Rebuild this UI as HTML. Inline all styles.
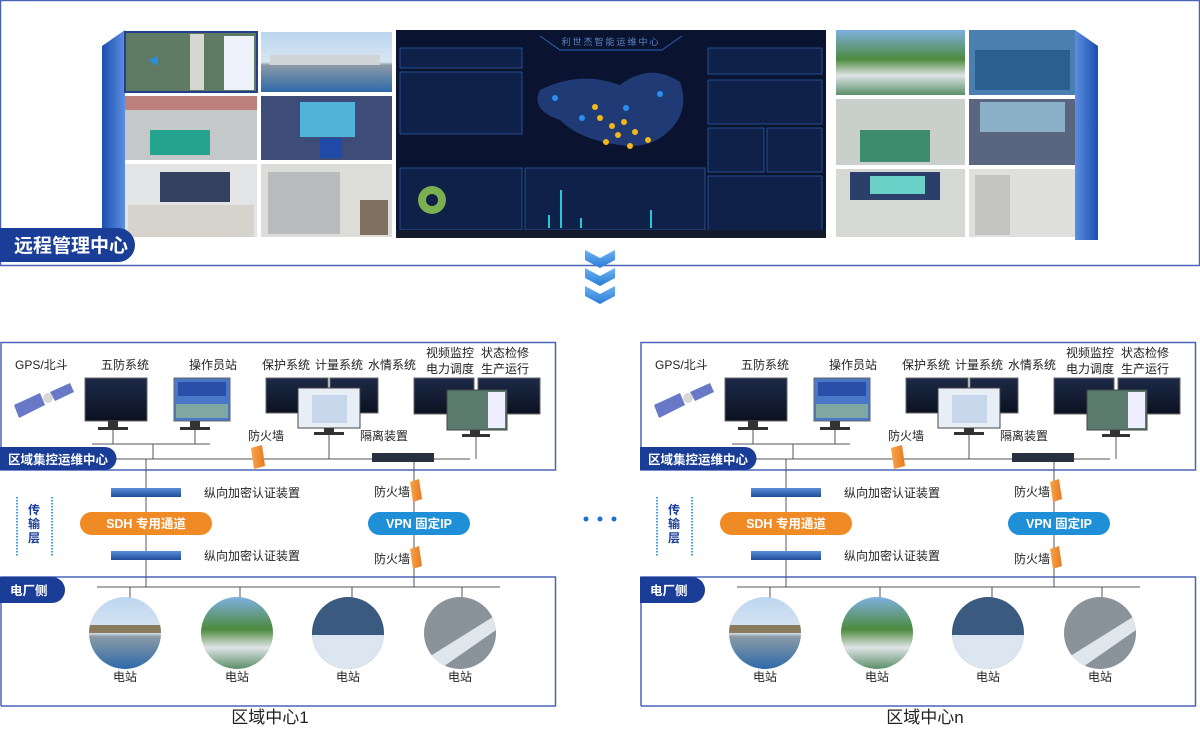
<!DOCTYPE html>
<html><head><meta charset="utf-8">
<style>
html,body{margin:0;padding:0;background:#fff;}
body{width:1200px;height:727px;overflow:hidden;font-family:"Liberation Sans","Noto Sans CJK SC",sans-serif;}
</style></head><body>
<svg width="1200" height="727" viewBox="0 0 1200 727" xmlns="http://www.w3.org/2000/svg" font-family="Liberation Sans, Noto Sans CJK SC, sans-serif">
<defs>
<linearGradient id="bar" x1="0" y1="0" x2="1" y2="0"><stop offset="0" stop-color="#1b4fb0"/><stop offset="1" stop-color="#5c8fe0"/></linearGradient>
<linearGradient id="bar2" x1="1" y1="0" x2="0" y2="0"><stop offset="0" stop-color="#1b4fb0"/><stop offset="1" stop-color="#5c8fe0"/></linearGradient>
<linearGradient id="sky" x1="0" y1="0" x2="0" y2="1"><stop offset="0" stop-color="#bcd6f0"/><stop offset="0.5" stop-color="#d8e6f2"/><stop offset="0.55" stop-color="#8a9aa6"/><stop offset="1" stop-color="#2e6aa8"/></linearGradient>
<linearGradient id="hill" x1="0" y1="0" x2="0" y2="1"><stop offset="0" stop-color="#7eb0e0"/><stop offset="0.45" stop-color="#4d8a3e"/><stop offset="0.7" stop-color="#dfe4e6"/><stop offset="1" stop-color="#5a8f6a"/></linearGradient>
<linearGradient id="orng" x1="0" y1="0" x2="1" y2="0"><stop offset="0" stop-color="#f6a64d"/><stop offset="1" stop-color="#e8781c"/></linearGradient>
<linearGradient id="mon" x1="0" y1="0" x2="0" y2="1"><stop offset="0" stop-color="#1d2a48"/><stop offset="1" stop-color="#0b1120"/></linearGradient>
<linearGradient id="dev" x1="0" y1="0" x2="0" y2="1"><stop offset="0" stop-color="#5a8fd8"/><stop offset="1" stop-color="#1e4c9a"/></linearGradient>
<linearGradient id="chev" x1="0" y1="0" x2="0" y2="1"><stop offset="0" stop-color="#6ab4f0"/><stop offset="1" stop-color="#2a7ad8"/></linearGradient>
<clipPath id="c1"><circle cx="125" cy="633" r="36"/></clipPath>
<clipPath id="c2"><circle cx="237" cy="633" r="36"/></clipPath>
<clipPath id="c3"><circle cx="348" cy="633" r="36"/></clipPath>
<clipPath id="c4"><circle cx="460" cy="633" r="36"/></clipPath>
</defs>

<rect x="0.5" y="0.5" width="1199" height="265" fill="#fff" stroke="#4a63b8" stroke-width="1.5"/>
<polygon points="102,46 125,30 125,240 102,240" fill="url(#bar)"/>
<polygon points="1098,46 1075,30 1075,240 1098,240" fill="url(#bar2)"/>
<rect x="125" y="32" width="132" height="60" fill="#5e7a62"/>
<rect x="125" y="32" width="132" height="60" fill="none" stroke="#23408e" stroke-width="2"/>
<rect x="224" y="36" width="30" height="54" fill="#eef2fa"/>
<rect x="190" y="34" width="14" height="56" fill="#d8d6d0"/>
<polygon points="148,60 158,56 158,66" fill="#2a8fe0"/>
<rect x="261" y="32" width="131" height="60" fill="url(#sky)"/>
<rect x="270" y="55" width="110" height="10" fill="#cfd4d6"/>
<rect x="125" y="96" width="132" height="64" fill="#c4c8c8"/>
<rect x="150" y="130" width="60" height="25" fill="#24a48e"/>
<rect x="125" y="96" width="132" height="14" fill="#b43a30" opacity="0.5"/>
<rect x="261" y="96" width="131" height="64" fill="#3d4d78"/>
<rect x="300" y="102" width="55" height="35" fill="#4fb4d8"/>
<rect x="320" y="138" width="22" height="20" fill="#1f4aa8"/>
<rect x="125" y="164" width="132" height="73" fill="#e2e4e6"/>
<rect x="160" y="172" width="70" height="30" fill="#334060"/>
<rect x="128" y="205" width="126" height="32" fill="#d6d2cc"/>
<rect x="261" y="164" width="131" height="73" fill="#dcdcd8"/>
<rect x="268" y="172" width="72" height="62" fill="#b8bcbc"/>
<rect x="360" y="200" width="28" height="35" fill="#807060"/>
<rect x="396" y="30" width="430" height="208" fill="#0a1430"/>
<text x="611" y="45" font-size="9" fill="#5b84c6" text-anchor="middle" letter-spacing="2">利世杰智能运维中心</text>
<path d="M540,36 L560,50 L662,50 L682,36" fill="none" stroke="#2b62b8" stroke-width="1"/>
<g fill="#0f2148" stroke="#2a5aa8" stroke-width="0.8">
<rect x="400" y="48" width="122" height="20"/>
<rect x="400" y="72" width="122" height="62"/>
<rect x="400" y="168" width="122" height="62"/>
<rect x="525" y="168" width="180" height="62"/>
<rect x="708" y="48" width="114" height="26"/>
<rect x="708" y="80" width="114" height="44"/>
<rect x="708" y="128" width="56" height="44"/>
<rect x="767" y="128" width="55" height="44"/>
<rect x="708" y="176" width="114" height="56"/>
</g>
<path d="M540,90 Q580,70 620,85 Q650,62 680,82 Q690,110 670,130 Q650,150 620,145 Q580,140 560,120 Q530,110 540,90Z" fill="#1f3a74"/>
<g fill="#f2b818"><circle cx="600" cy="118" r="3"/><circle cx="612" cy="126" r="3"/><circle cx="624" cy="122" r="3"/><circle cx="618" cy="135" r="3"/><circle cx="635" cy="132" r="3"/><circle cx="606" cy="142" r="3"/><circle cx="630" cy="146" r="3"/><circle cx="648" cy="140" r="3"/><circle cx="595" cy="107" r="3"/></g>
<g fill="#2d8ef0"><circle cx="555" cy="98" r="3"/><circle cx="582" cy="118" r="3"/><circle cx="626" cy="108" r="3"/><circle cx="660" cy="94" r="3"/></g>
<circle cx="432" cy="200" r="14" fill="#7ab050"/><circle cx="432" cy="200" r="6" fill="#0f2148"/>
<g fill="#26c6e0"><rect x="560" y="190" width="2" height="38"/><rect x="548" y="215" width="2" height="13"/><rect x="580" y="218" width="2" height="10"/><rect x="650" y="210" width="2" height="18"/></g>
<rect x="396" y="230" width="430" height="8" fill="#141c2c"/>
<rect x="836" y="30" width="129" height="65" fill="url(#hill)"/>
<rect x="969" y="30" width="106" height="65" fill="#4a7fb0"/>
<rect x="975" y="50" width="95" height="40" fill="#2d5e92"/>
<rect x="836" y="99" width="129" height="66" fill="#c9d0cc"/>
<rect x="860" y="130" width="70" height="32" fill="#3d8c70"/>
<rect x="969" y="99" width="106" height="66" fill="#5a6680"/>
<rect x="980" y="102" width="85" height="30" fill="#8ab0c8"/>
<rect x="836" y="169" width="129" height="68" fill="#d6d8d4"/>
<rect x="850" y="172" width="90" height="28" fill="#2c3f6a"/>
<rect x="870" y="176" width="55" height="18" fill="#6ad0c8"/>
<rect x="969" y="169" width="106" height="68" fill="#dfe0de"/>
<rect x="975" y="175" width="35" height="60" fill="#c4c4c2"/>
<path d="M0,228 H118 A17,17 0 0 1 135,245 A17,17 0 0 1 118,262 H0 Z" fill="#1a3e98"/>
<text x="14" y="252" font-size="19" font-weight="bold" fill="#fff">远程管理中心</text>

<g fill="url(#chev)">
<polygon points="585,250 600,258 615,250 615,260 600,268 585,260"/>
<polygon points="585,268 600,276 615,268 615,278 600,286 585,278"/>
<polygon points="585,286 600,294 615,286 615,296 600,304 585,296"/>
</g>

<g id="panel">
<path d="M1,470 V342.5 H555.5 V470 H1 Z" fill="none" stroke="#4a63b8" stroke-width="1.5"/>
<path d="M1,706 V577 H555.5 V706 H1" fill="none" stroke="#4a63b8" stroke-width="1.5"/>
<g font-size="12" fill="#222">
<text x="15" y="369">GPS/北斗</text>
<text x="101" y="369">五防系统</text>
<text x="189" y="369">操作员站</text>
<text x="262" y="369">保护系统</text>
<text x="315" y="369">计量系统</text>
<text x="368" y="369">水情系统</text>
<text x="426" y="357">视频监控</text>
<text x="481" y="357">状态检修</text>
<text x="426" y="373">电力调度</text>
<text x="481" y="373">生产运行</text>
<text x="248" y="440">防火墙</text>
<text x="360" y="440">隔离装置</text>
</g>
<polygon points="14,405 40,393 45,405 19,418" fill="#6a78c8"/>
<polygon points="50,392 70,383 74,392 55,401" fill="#6a78c8"/>
<circle cx="48" cy="398" r="5" fill="#d8d8d8"/>
<g stroke="#555" stroke-width="1">
<line x1="113" y1="430" x2="113" y2="444"/><line x1="195" y1="430" x2="195" y2="444"/>
<line x1="92" y1="444" x2="210" y2="444"/>
<line x1="153" y1="444" x2="153" y2="459"/>
<line x1="113" y1="459" x2="470" y2="459"/>
<line x1="329" y1="432" x2="329" y2="459"/>
<line x1="476" y1="432" x2="476" y2="459"/>
<line x1="146" y1="459" x2="146" y2="587"/>
<line x1="414" y1="459" x2="414" y2="587"/>
<line x1="97" y1="587" x2="500" y2="587"/>
<line x1="130" y1="587" x2="130" y2="600"/><line x1="240" y1="587" x2="240" y2="600"/>
<line x1="352" y1="587" x2="352" y2="600"/><line x1="462" y1="587" x2="462" y2="600"/>
</g>
<rect x="85" y="378" width="62" height="43" fill="url(#mon)" stroke="#666"/>
<rect x="108" y="421" width="10" height="6" fill="#333"/><rect x="98" y="427" width="30" height="3" fill="#333"/>
<rect x="174" y="378" width="56" height="43" fill="#4a78c8" stroke="#666"/>
<rect x="178" y="382" width="48" height="14" fill="#2a4fa8"/><rect x="176" y="404" width="52" height="14" fill="#7fa8a0"/>
<rect x="190" y="421" width="10" height="6" fill="#333"/><rect x="180" y="427" width="30" height="3" fill="#333"/>
<rect x="266" y="378" width="62" height="35" fill="url(#mon)" stroke="#666"/>
<rect x="330" y="378" width="48" height="35" fill="url(#mon)" stroke="#666"/>
<rect x="298" y="388" width="62" height="40" fill="#e8eef6" stroke="#444"/>
<rect x="312" y="395" width="35" height="28" fill="#c8d6ec"/>
<rect x="324" y="428" width="10" height="4" fill="#333"/><rect x="314" y="432" width="30" height="3" fill="#333"/>
<rect x="414" y="378" width="60" height="36" fill="url(#mon)" stroke="#666"/>
<rect x="478" y="378" width="62" height="36" fill="url(#mon)" stroke="#666"/>
<rect x="447" y="390" width="60" height="40" fill="#5a7a6e" stroke="#444"/>
<rect x="488" y="392" width="17" height="36" fill="#eef"/>
<rect x="470" y="430" width="10" height="4" fill="#333"/><rect x="462" y="434" width="28" height="3" fill="#333"/>
<polygon points="251,448 262,445 265,466 254,469" fill="url(#orng)"/>
<rect x="372" y="453" width="62" height="9" fill="#26303e"/>
<rect x="111" y="488" width="70" height="9" fill="url(#dev)"/>
<rect x="111" y="551" width="70" height="9" fill="url(#dev)"/>
<g font-size="12" fill="#222">
<text x="204" y="497">纵向加密认证装置</text>
<text x="204" y="560">纵向加密认证装置</text>
<text x="374" y="496">防火墙</text>
<text x="374" y="563">防火墙</text>
</g>
<polygon points="410,482 419,479 422,499 413,502" fill="url(#orng)"/>
<polygon points="410,549 419,546 422,566 413,569" fill="url(#orng)"/>
<rect x="80" y="512" width="132" height="23" rx="11.5" fill="#f08a24"/>
<text x="146" y="528" font-size="12.5" font-weight="bold" fill="#fff" text-anchor="middle">SDH  专用通道</text>
<rect x="368" y="512" width="102" height="23" rx="11.5" fill="#1f8fd8"/>
<text x="419" y="528" font-size="12.5" font-weight="bold" fill="#fff" text-anchor="middle">VPN  固定IP</text>
<line x1="17" y1="497" x2="17" y2="557" stroke="#3aa0e0" stroke-width="2" stroke-dasharray="1.5,1.5"/>
<line x1="52" y1="497" x2="52" y2="557" stroke="#3aa0e0" stroke-width="2" stroke-dasharray="1.5,1.5"/>
<g font-size="12" font-weight="bold" fill="#1a3e98" text-anchor="middle">
<text x="34" y="514">传</text><text x="34" y="528">输</text><text x="34" y="542">层</text>
</g>
<path d="M0,447 H105 A11.5,11.5 0 0 1 105,470 H0 Z" fill="#1a3e98"/>
<text x="8" y="464" font-size="12.5" font-weight="bold" fill="#fff">区域集控运维中心</text>
<path d="M0,577 H52 A13,13 0 0 1 52,603 H0 Z" fill="#1a3e98"/>
<text x="10" y="595" font-size="12.5" font-weight="bold" fill="#fff">电厂侧</text>
<g clip-path="url(#c1)"><rect x="89" y="597" width="72" height="72" fill="url(#sky)"/><rect x="89" y="625" width="72" height="8" fill="#8a7a5e"/></g>
<g clip-path="url(#c2)"><rect x="201" y="597" width="72" height="72" fill="url(#hill)"/></g>
<g clip-path="url(#c3)"><rect x="312" y="597" width="72" height="72" fill="#3a5a80"/><rect x="312" y="635" width="72" height="34" fill="#dce6f0"/></g>
<g clip-path="url(#c4)"><rect x="424" y="597" width="72" height="72" fill="#8a929a"/><polygon points="424,660 496,615 496,630 440,669" fill="#dfe6ec"/></g>
<g font-size="12" fill="#222" text-anchor="middle">
<text x="125" y="681">电站</text><text x="237" y="681">电站</text><text x="348" y="681">电站</text><text x="460" y="681">电站</text>
</g>
</g>
<use href="#panel" x="640"/>

<g fill="#1f6fd0"><circle cx="586" cy="519" r="2.5"/><circle cx="600" cy="519" r="2.5"/><circle cx="614" cy="519" r="2.5"/></g>
<text x="270" y="723" font-size="17" fill="#222" text-anchor="middle">区域中心1</text>
<text x="925" y="723" font-size="17" fill="#222" text-anchor="middle">区域中心n</text>
</svg>
</body></html>
